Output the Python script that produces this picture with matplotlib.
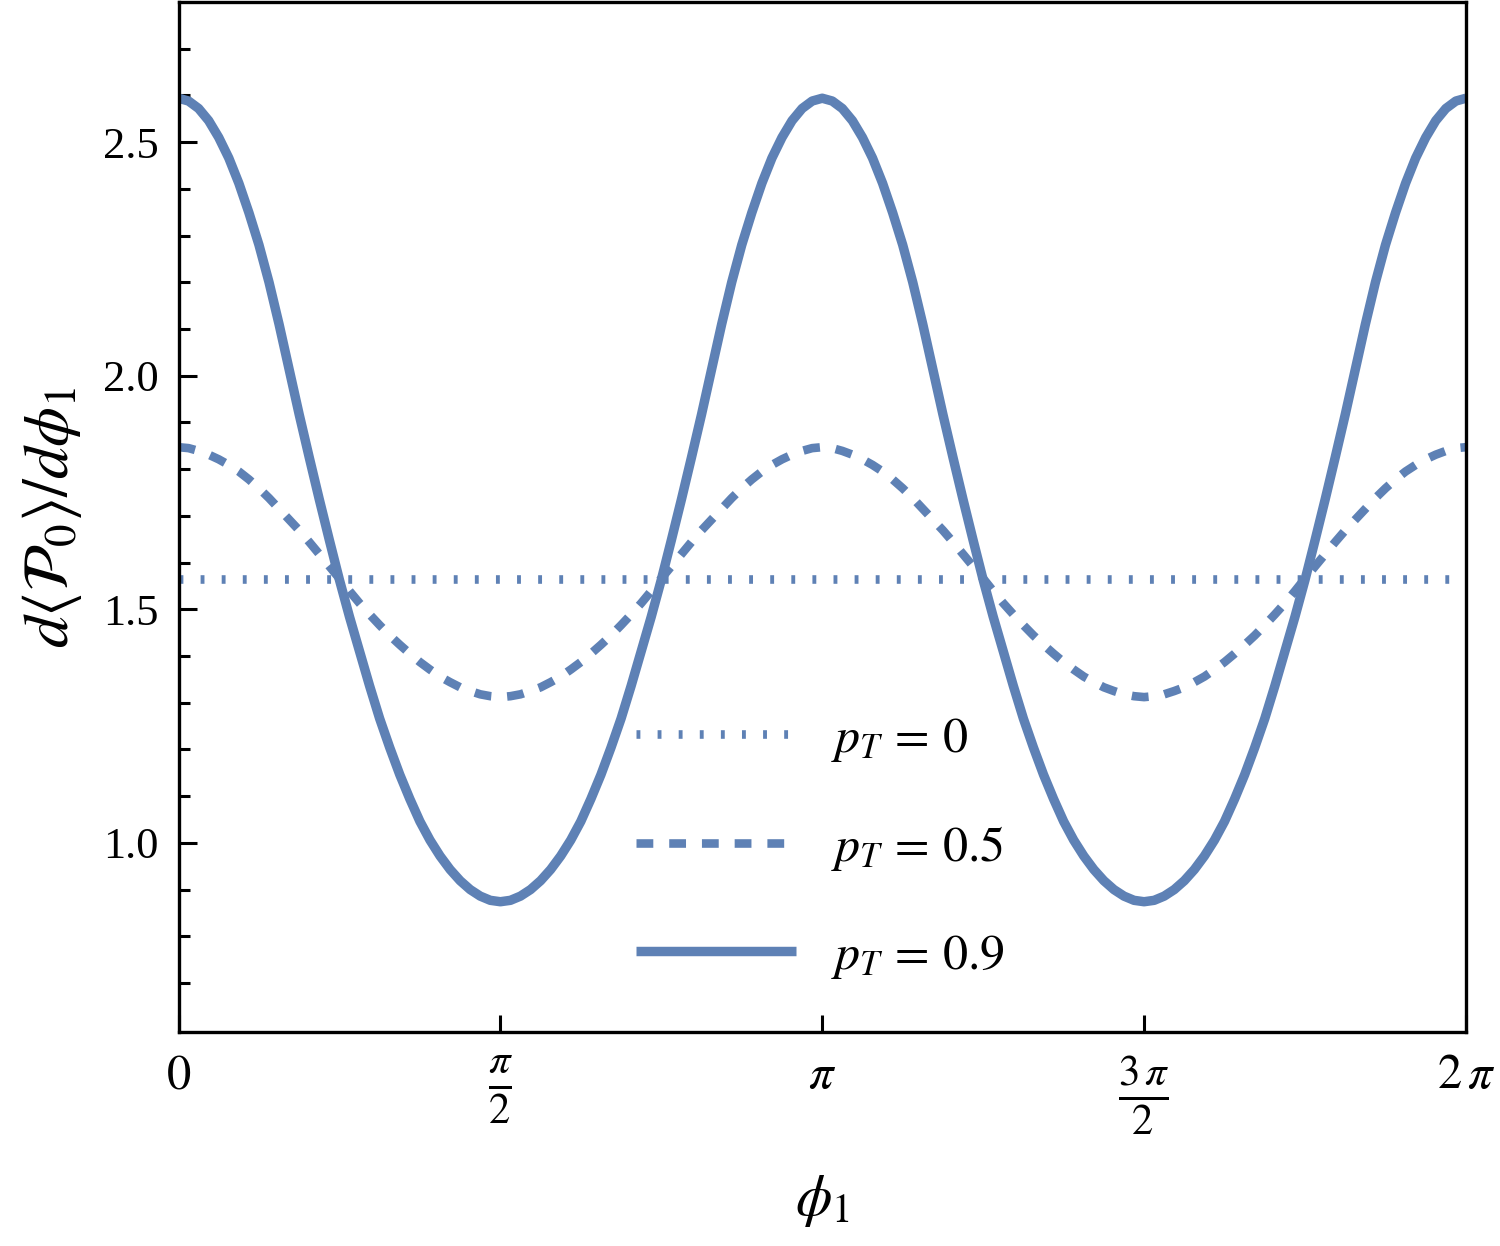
import numpy as np
import matplotlib
matplotlib.use("Agg")
import matplotlib.pyplot as plt
from matplotlib.ticker import FixedLocator

plt.rcParams['font.family'] = ['Liberation Serif', 'DejaVu Serif']
plt.rcParams['mathtext.fontset'] = 'stix'

n_samples = 129
p0_value = 1.565
p05_values = [
    1.847, 1.845, 1.839, 1.831, 1.821, 1.809, 1.795, 1.778, 1.759, 1.738, 1.715,
    1.692, 1.669, 1.644, 1.618, 1.592, 1.566, 1.539, 1.513, 1.489, 1.466, 1.444,
    1.424, 1.405, 1.387, 1.371, 1.356, 1.344, 1.333, 1.325, 1.318, 1.314, 1.312,
    1.314, 1.318, 1.325, 1.333, 1.344, 1.356, 1.371, 1.387, 1.405, 1.424, 1.444,
    1.466, 1.489, 1.513, 1.539, 1.566, 1.592, 1.618, 1.644, 1.669, 1.692, 1.715,
    1.738, 1.759, 1.778, 1.795, 1.809, 1.821, 1.831, 1.839, 1.845, 1.847,
    1.845, 1.839, 1.831, 1.821, 1.809, 1.795, 1.778, 1.759, 1.738, 1.715,
    1.692, 1.669, 1.644, 1.618, 1.592, 1.566, 1.539, 1.513, 1.489, 1.466, 1.444,
    1.424, 1.405, 1.387, 1.371, 1.356, 1.344, 1.333, 1.325, 1.318, 1.314, 1.312,
    1.314, 1.318, 1.325, 1.333, 1.344, 1.356, 1.371, 1.387, 1.405, 1.424, 1.444,
    1.466, 1.489, 1.513, 1.539, 1.566, 1.592, 1.618, 1.644, 1.669, 1.692, 1.715,
    1.738, 1.759, 1.778, 1.795, 1.809, 1.821, 1.831, 1.839, 1.845, 1.847]
p09_values = [
    2.594, 2.588, 2.572, 2.546, 2.510, 2.466, 2.412, 2.349, 2.280, 2.200, 2.110,
    2.014, 1.917, 1.825, 1.735, 1.648, 1.563, 1.484, 1.410, 1.336, 1.266, 1.204,
    1.146, 1.094, 1.046, 1.006, 0.972, 0.943, 0.919, 0.900, 0.886, 0.877, 0.874,
    0.877, 0.886, 0.900, 0.919, 0.943, 0.972, 1.006, 1.046, 1.094, 1.146, 1.204,
    1.266, 1.336, 1.410, 1.484, 1.563, 1.648, 1.735, 1.825, 1.917, 2.014, 2.110,
    2.200, 2.280, 2.349, 2.412, 2.466, 2.510, 2.546, 2.572, 2.588, 2.594,
    2.588, 2.572, 2.546, 2.510, 2.466, 2.412, 2.349, 2.280, 2.200, 2.110,
    2.014, 1.917, 1.825, 1.735, 1.648, 1.563, 1.484, 1.410, 1.336, 1.266, 1.204,
    1.146, 1.094, 1.046, 1.006, 0.972, 0.943, 0.919, 0.900, 0.886, 0.877, 0.874,
    0.877, 0.886, 0.900, 0.919, 0.943, 0.972, 1.006, 1.046, 1.094, 1.146, 1.204,
    1.266, 1.336, 1.410, 1.484, 1.563, 1.648, 1.735, 1.825, 1.917, 2.014, 2.110,
    2.200, 2.280, 2.349, 2.412, 2.466, 2.510, 2.546, 2.572, 2.588, 2.594]
labels = [r"$p_T\,=\,0$", r"$p_T\,=\,0.5$", r"$p_T\,=\,0.9$"]
x_tick_labels = [r"$0$", r"$\frac{\pi}{2}$", r"$\pi$", r"$\frac{3\,\pi}{2}$", r"$2\,\pi$"]
y_tick_labels = ["1.0", "1.5", "2.0", "2.5"]
y_ticks = [1.0, 1.5, 2.0, 2.5]

phi = np.linspace(0, 2 * np.pi, n_samples)
color = "#5E81B5"

fig = plt.figure(figsize=(15, 12.46), dpi=100)
ax = fig.add_axes([0.119, 0.1717, 0.8583, 0.8267])

lw = 6.2
ax.plot([phi[0], phi[-1]], [p0_value, p0_value], color=color, lw=lw,
        linestyle=(0, (0.45, 2.0)), dash_capstyle='butt', label=labels[0])
ax.plot(phi, p05_values, color=color, lw=lw,
        linestyle=(0, (1.95, 1.85)), dash_capstyle='butt', label=labels[1])
ax.plot(phi, p09_values, color=color, lw=6.8, solid_capstyle='butt',
        solid_joinstyle='round', label=labels[2])

ax.set_xlim(0, 2 * np.pi)
ax.set_ylim(0.595, 2.80)

ax.xaxis.set_major_locator(FixedLocator([0, np.pi / 2, np.pi, 3 * np.pi / 2, 2 * np.pi]))
ax.set_xticklabels(x_tick_labels)
ax.yaxis.set_major_locator(FixedLocator(y_ticks))
ax.set_yticklabels(y_tick_labels)
ax.yaxis.set_minor_locator(FixedLocator([v / 10 for v in range(7, 28) if v % 5 != 0]))

ax.tick_params(axis='both', which='both', direction='in', top=False, right=False,
               width=2.2, labelsize=32, colors='black')
ax.tick_params(axis='y', which='major', length=13, pad=14)
ax.tick_params(axis='y', which='minor', length=8)
ax.tick_params(axis='x', which='major', length=12, pad=16)
for s in ax.spines.values():
    s.set_linewidth(2.4)

xt = ax.get_xticklabels()
for i, t in enumerate(xt):
    t.set_fontsize(44 if i in (1, 3) else 35)

ax.set_xlabel(r"$\phi_1$", fontsize=42, labelpad=26)
ax.set_ylabel(r"$d\langle\mathcal{P}_0\rangle/d\phi_1$", fontsize=46, labelpad=14)

leg = ax.legend(loc='center left', bbox_to_anchor=(0.355, 0.1786), frameon=False,
                fontsize=36, handlelength=3.2, handletextpad=0.7,
                labelspacing=1.2, borderpad=0, borderaxespad=0)

fig.savefig("out.png", dpi=100)
